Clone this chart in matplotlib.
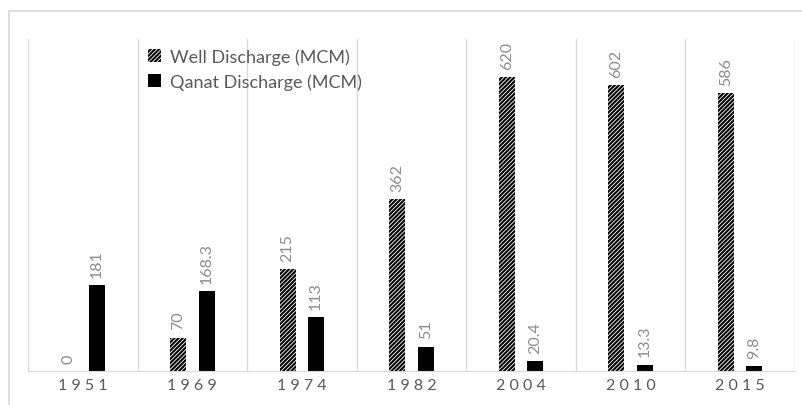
import matplotlib.pyplot as plt
from matplotlib.patches import Rectangle, Patch
import numpy as np

years = ['1951', '1969', '1974', '1982', '2004', '2010', '2015']
well = [0, 70, 215, 362, 620, 602, 586]
qanat = [181, 168.3, 113, 51, 20.4, 13.3, 9.8]
well_lbl = ['0', '70', '215', '362', '620', '602', '586']
qanat_lbl = ['181', '168.3', '113', '51', '20.4', '13.3', '9.8']

plt.rcParams['font.family'] = ['Lato', 'DejaVu Sans']
plt.rcParams['hatch.linewidth'] = 1.5

fig = plt.figure(figsize=(8.02, 4.06), dpi=100)
# outer chart border (cropped chart)
fig.patches.append(Rectangle((9/802, -0.1), 1.2, 1.1 - 12/406, transform=fig.transFigure,
                             fill=False, edgecolor='#d9d9d9', linewidth=1.2))

ax = fig.add_axes([28/802, 1 - 372/406, (795-28)/802, (372-40)/406])
x = np.arange(len(years))
w = 0.146
off = 0.13

ax.bar(x - off, well, w, color='white', edgecolor='black', hatch='////////', linewidth=0)
ax.bar(x + off, qanat, w, color='black', linewidth=0)

for i in range(len(years)):
    ax.annotate(well_lbl[i], (x[i] - off, well[i]), xytext=(0, 6), textcoords='offset points',
                rotation=90, ha='center', va='bottom', color='#8c8c8c', fontsize=11.5)
    ax.annotate(qanat_lbl[i], (x[i] + off, qanat[i]), xytext=(0, 6), textcoords='offset points',
                rotation=90, ha='center', va='bottom', color='#8c8c8c', fontsize=11.5)

for b in np.arange(-0.5, len(years), 1):
    ax.axvline(b, color='#d9d9d9', linewidth=1, zorder=0)

ax.set_xlim(-0.5, len(years) - 0.5)
ax.set_ylim(0, 700)
ax.set_yticks([])
ax.set_xticks(x)
ax.set_xticklabels([' '.join(y) for y in years], color='#595959', fontsize=11.5)
ax.tick_params(axis='x', length=0, pad=5)
for s in ['top', 'left', 'right']:
    ax.spines[s].set_visible(False)
ax.spines['bottom'].set_color('#d9d9d9')

handles = [Patch(facecolor='white', edgecolor='black', hatch='////////', linewidth=0),
           Patch(facecolor='black', linewidth=0)]
leg = fig.legend(handles, ['Well Discharge (MCM)', 'Qanat Discharge (MCM)'],
                 loc='upper left', bbox_to_anchor=(134/802, 1 - 35/406), frameon=False,
                 fontsize=13, handlelength=0.7, handleheight=0.7, handletextpad=0.5,
                 labelspacing=0.45, borderpad=0.3)
for t in leg.get_texts():
    t.set_color('#595959')

fig.savefig('out.png', dpi=100)
